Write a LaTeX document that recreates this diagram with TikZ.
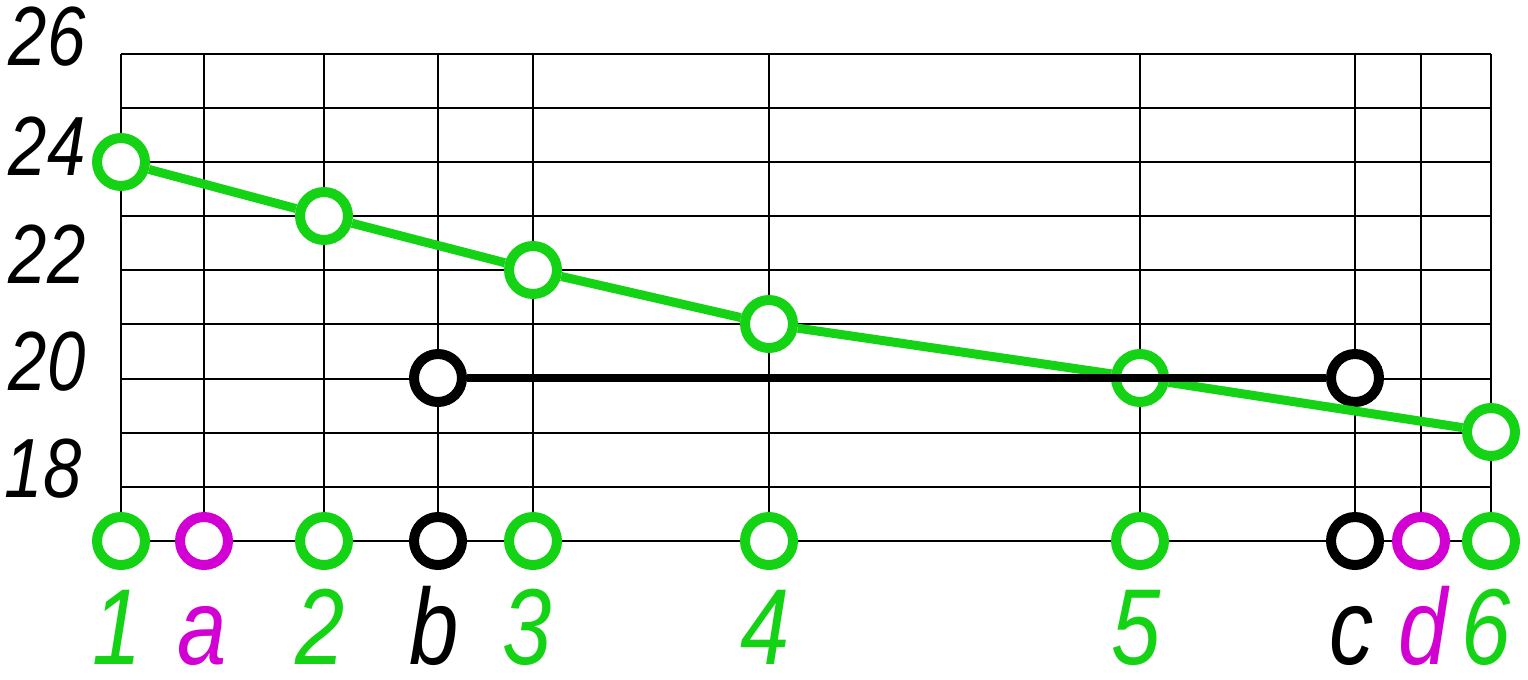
\documentclass[tikz,border=0pt]{standalone}
\usepackage{fontspec}
\newfontfamily\gost[FakeStretch=0.82]{Liberation Sans}
\usetikzlibrary{backgrounds}
\definecolor{gr}{RGB}{20,210,20}
\definecolor{mg}{RGB}{210,0,210}
\begin{document}
\begin{tikzpicture}[x=0.5pt,y=-0.5pt,
  gridline/.style={line width=1.2pt, black},
  pt/.style={circle, draw, fill=white, line width=5pt, minimum size=24pt, inner sep=0pt},
  gpt/.style={pt, draw=gr},
  mpt/.style={pt, draw=mg},
  kpt/.style={pt, draw=black},
  ylab/.style={anchor=base east, inner sep=0pt, font=\gost\itshape\fontsize{42}{44}\selectfont},
  xlab/.style={anchor=base, inner sep=0pt, font=\gost\itshape\fontsize{54}{56}\selectfont}]
\path[use as bounding box] (0,0) rectangle (1528,680);

% value labels
\node[ylab] (l26) at (86,65) {26};
\node[ylab] (l24) at (86,175) {24};
\node[ylab] (l22) at (86,283) {22};
\node[ylab] (l20) at (86,390) {20};
\node[ylab] (l18) at (82,497) {18};

% top points
\node[gpt] (p1) at (121,162) {};
\node[gpt] (p2) at (324,216) {};
\node[gpt] (p3) at (533,270) {};
\node[gpt] (p4) at (769,324) {};
\node[gpt] (p5) at (1140,378) {};
\node[gpt] (p6) at (1491,432) {};
\node[kpt] (pb) at (438,378) {};
\node[kpt] (pc) at (1355,378) {};

% bottom points
\node[gpt] (q1) at (121,541) {};
\node[mpt] (qa) at (204,541) {};
\node[gpt] (q2) at (324,541) {};
\node[kpt] (qb) at (438,541) {};
\node[gpt] (q3) at (533,541) {};
\node[gpt] (q4) at (769,541) {};
\node[gpt] (q5) at (1140,541) {};
\node[kpt] (qc) at (1355,541) {};
\node[mpt] (qd) at (1421,541) {};
\node[gpt] (q6) at (1491,541) {};

% bottom labels
\node[xlab, text=gr] (t1) at (117,664) {1};
\node[xlab, text=mg] (ta) at (202,664) {a};
\node[xlab, text=gr] (t2) at (320,664) {2};
\node[xlab, text=black] (tb) at (434,664) {b};
\node[xlab, text=gr] (t3) at (527,664) {3};
\node[xlab, text=gr] (t4) at (765,664) {4};
\node[xlab, text=gr] (t5) at (1136,664) {5};
\node[xlab, text=black] (tc) at (1352,664) {c};
\node[xlab, text=mg] (td) at (1423,664) {d};
\node[xlab, text=gr] (t6) at (1486,664) {6};

\begin{scope}[on background layer]
  % grid
  \foreach \y in {54,108,162,216,270,324,379,433,487}
    \draw[gridline] (121,\y) -- (1491,\y);
  \foreach \q/\x in {q1/121,qa/204,q2/324,qb/438,q3/533,q4/769,q5/1140,qc/1355,qd/1421,q6/1491}
    \draw[gridline] (\x,54) -- (\q);
  \draw[gridline] (q1) -- (qa) -- (q2) -- (qb) -- (q3) -- (q4) -- (q5) -- (qc) -- (qd) -- (q6);
\end{scope}

% profile lines
\draw[gr, line width=4.5pt] (p1) -- (p2) -- (p3) -- (p4) -- (p5) -- (p6);
\draw[black, line width=4pt] (pb) -- (pc);
\end{tikzpicture}
\end{document}
